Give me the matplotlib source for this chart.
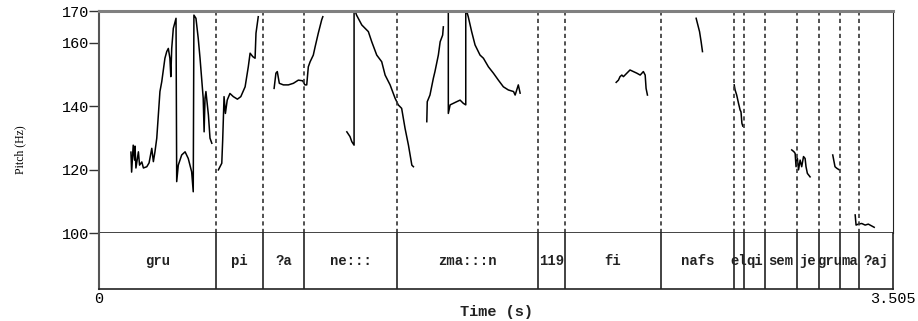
import numpy as np
import matplotlib
matplotlib.use("Agg")
import matplotlib.pyplot as plt

# Interval boundaries of the text tier (s)
boundaries = [0.517, 0.724, 0.907, 1.316, 1.938, 2.057, 2.480, 2.803,
              2.847, 2.940, 3.082, 3.178, 3.272, 3.354]
total_dur = 3.505

# Interval labels (one per interval, from 0 to total_dur)
labels = ["gru", "pi", "?a", "ne:::", "zma:::n", "119", "fi", "nafs",
          "el", "qi", "sem", "je", "gru", "ma", "?aj"]

# Pitch contour, None = unvoiced gap
pitch_time = [
    0.141, 0.144, 0.151, 0.157, 0.159, 0.163, 0.174, 0.179, 0.189, 0.196,
    0.211, 0.221, 0.233, 0.240, 0.247, 0.255, 0.262, 0.269, 0.277, 0.291,
    0.299, 0.306, 0.313, 0.317, 0.321, 0.328, 0.336, 0.340, 0.343, 0.350,
    0.365, 0.380, 0.394, 0.409, 0.416, 0.419, 0.428, 0.438, 0.446, 0.453,
    0.460, 0.464, 0.468, 0.472, 0.483, 0.490, 0.498, None,
    0.527, 0.542, 0.546, 0.552, 0.558, 0.566, 0.578, 0.593, 0.611, 0.626,
    0.645, 0.659, 0.667, 0.679, 0.689, 0.693, 0.703, None,
    0.773, 0.781, 0.787, 0.796, 0.814, 0.836, 0.858, 0.880, 0.899, 0.909,
    0.917, 0.924, 0.932, 0.946, 0.954, 0.968, 0.983, 0.988, None,
    1.094, 1.108, 1.116, 1.126, 1.126, 1.137, 1.160, 1.189, 1.204, 1.226,
    1.248, 1.263, 1.285, 1.307, 1.321, 1.336, 1.351, 1.366, 1.381, 1.388, None,
    1.447, 1.449, 1.461, 1.476, 1.483, 1.498, 1.506, 1.517, 1.520, None,
    1.542, 1.542, 1.550, 1.564, 1.579, 1.594, 1.608, 1.619, 1.619, 1.630,
    1.645, 1.660, 1.682, 1.697, 1.719, 1.741, 1.763, 1.785, 1.807, 1.830,
    1.837, 1.844, 1.851, 1.859, None,
    2.283, 2.293, 2.300, 2.308, 2.315, 2.330, 2.344, 2.359, 2.374, 2.389,
    2.403, 2.411, 2.415, 2.421, None,
    2.636, 2.651, 2.658, 2.664, None,
    2.804, 2.808, 2.815, 2.823, 2.830, 2.834, 2.838, 2.842, None,
    3.058, 3.068, 3.073, 3.077, 3.083, 3.088, 3.095, 3.102, 3.110, 3.117,
    3.121, 3.127, 3.139, None,
    3.239, 3.242, 3.249, 3.257, 3.268, None,
    3.338, 3.342, 3.352, 3.367, 3.382, 3.396, 3.411, 3.422,
]
pitch_hz = [
    125.5, 119.2, 127.7, 123.0, 127.4, 120.5, 125.6, 121.4, 122.4, 120.5,
    120.9, 122.1, 126.7, 122.5, 125.6, 129.9, 137.2, 144.6, 147.7, 155.1,
    157.2, 158.2, 155.1, 149.3, 158.2, 164.5, 166.6, 167.7, 116.2, 121.4,
    124.6, 125.6, 123.5, 119.3, 113.0, 168.7, 167.7, 161.4, 155.1, 148.8,
    142.5, 131.9, 142.5, 144.6, 137.2, 129.9, 128.3, None,
    119.9, 122.0, 129.3, 143.0, 137.7, 141.9, 144.0, 143.0, 142.2, 143.0,
    146.1, 152.4, 156.7, 155.6, 155.1, 163.0, 168.2, None,
    145.6, 150.4, 150.9, 147.2, 146.7, 146.7, 147.2, 148.2, 148.0, 146.7,
    146.7, 152.4, 154.0, 156.1, 158.7, 163.0, 167.2, 168.2, None,
    131.9, 130.4, 128.8, 127.7, 171.0, 168.7, 165.6, 163.5, 160.3, 156.1,
    154.0, 149.8, 146.7, 142.5, 140.4, 139.3, 133.0, 127.7, 121.4, 120.9, None,
    135.1, 141.4, 143.5, 148.8, 150.9, 156.1, 160.3, 162.4, 165.0, None,
    171.0, 137.7, 140.4, 140.9, 141.4, 141.9, 140.9, 140.4, 171.0, 168.2,
    163.5, 159.3, 156.1, 155.1, 152.4, 150.4, 148.2, 146.1, 145.1, 144.6,
    143.5, 145.1, 146.7, 144.1, None,
    147.5, 148.2, 149.3, 149.8, 149.3, 150.4, 151.4, 150.9, 150.4, 149.8,
    150.9, 149.8, 145.6, 143.5, None,
    167.7, 163.5, 160.3, 157.2, None,
    146.7, 145.1, 143.5, 140.9, 138.8, 138.2, 134.6, 133.7, None,
    126.2, 125.6, 125.1, 120.9, 123.5, 119.9, 123.0, 120.9, 124.1, 123.5,
    120.9, 118.8, 117.7, None,
    124.6, 123.5, 120.9, 120.4, 119.9, None,
    105.7, 102.5, 102.8, 103.0, 102.5, 102.8, 102.2, 101.8,
]
y_ticks = [100, 120, 140, 160, 170]

mono = "Liberation Mono"

fig = plt.figure(figsize=(9.18, 3.21), dpi=100)
left, right = 99 / 918, 893 / 918
ax = fig.add_axes([left, 1 - 233 / 321, right - left, (233 - 11) / 321])
tier = fig.add_axes([left, 1 - 289 / 321, right - left, (289 - 233) / 321])

# pitch contour
t = np.array([np.nan if v is None else v for v in pitch_time], dtype=float)
f = np.array([np.nan if v is None else v for v in pitch_hz], dtype=float)
ax.plot(t, f, color="black", lw=1.1)

for b in boundaries:
    ax.axvline(b, color="#333333", lw=1.2, ls=(0, (2.5, 2.0)))
    tier.axvline(b, color="#222222", lw=1.2)

ax.set_xlim(0, total_dur)
ax.set_ylim(100, 170)
ax.set_yticks(y_ticks)
ax.set_yticklabels([str(v) for v in y_ticks], fontfamily=mono, fontsize=11)
ax.tick_params(axis="y", length=7, width=1, pad=0, color="#333333")
ax.set_xticks([])
ax.spines["top"].set_color("#808080")
ax.spines["top"].set_linewidth(2.2)
ax.spines["left"].set_color("#555555")
ax.spines["left"].set_linewidth(1.5)
ax.spines["right"].set_color("#222222")
ax.spines["bottom"].set_color("#222222")
ax.spines["bottom"].set_linewidth(1.2)

# text tier
edges = [0.0] + boundaries + [total_dur]
for i, lab in enumerate(labels):
    mid = (edges[i] + edges[i + 1]) / 2
    tier.text(mid, 0.5, lab, ha="center", va="center",
              fontfamily=mono, fontsize=10, fontweight="bold", color="#222222")
tier.set_xlim(0, total_dur)
tier.set_ylim(0, 1)
tier.set_yticks([])
tier.set_xticks([0, total_dur])
tier.set_xticklabels(["0", "3.505"], fontfamily=mono, fontsize=11)
tier.tick_params(axis="x", length=0, pad=2)
for s in tier.spines.values():
    s.set_color("#222222")
    s.set_linewidth(1.2)
tier.spines["left"].set_color("#555555")
tier.spines["left"].set_linewidth(1.5)
tier.spines["top"].set_visible(False)

fig.text((left + right) / 2, 1 - 312 / 321, "Time (s)", ha="center",
         va="center", fontfamily=mono, fontsize=11, fontweight="bold",
         color="#222222")
fig.text(20 / 918, 1 - 150 / 321, "Pitch (Hz)", rotation=90, ha="center",
         va="center", fontfamily="Liberation Serif", fontsize=8.5)

fig.savefig("out.png", dpi=100)
